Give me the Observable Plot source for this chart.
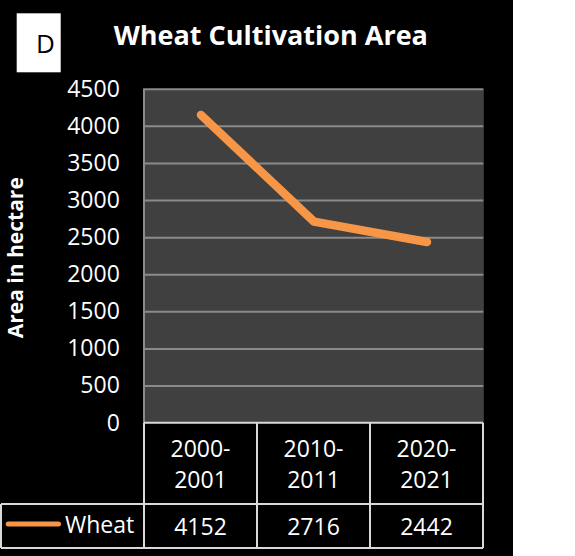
<!DOCTYPE html>
<html><head><meta charset="utf-8">
<script src="https://cdn.jsdelivr.net/npm/d3@7"></script>
<script src="https://cdn.jsdelivr.net/npm/@observablehq/plot@0.6"></script>
<style>
html,body{margin:0;padding:0;background:#fff;}
#chart svg{display:block;}
</style></head><body><div id="chart"></div>
<script>
// ---- data ----
const categories = ["2000-2001", "2010-2011", "2020-2021"];
const categoryLines = [["2000-", "2001"], ["2010-", "2011"], ["2020-", "2021"]];
const wheat = [4152, 2716, 2442];
const seriesName = "Wheat";
const yTicks = [0, 500, 1000, 1500, 2000, 2500, 3000, 3500, 4000, 4500];
const title = "Wheat Cultivation Area";
const yLabel = "Area in hectare";
const panelLetter = "D";

const data = categories.map((c, i) => ({category: c, value: wheat[i]}));

const FONT = "'Open Sans', 'Noto Sans', sans-serif";
const ORANGE = "#F79646";
const BORDER = "#d9d9d9";
const GRID = "#8a8a8a";

const plot = Plot.plot({
  width: 513,
  height: 556,
  marginLeft: 143.3,
  marginRight: 29.7,
  marginTop: 88.7,
  marginBottom: 133.3,
  style: {background: "#000", color: "#fff", fontFamily: FONT, fontSize: "23px", overflow: "visible"},
  x: {type: "band", domain: categories, padding: 0, axis: null},
  y: {domain: [0, 4500], ticks: yTicks, tickSize: 0, tickPadding: 24, label: null, tickFormat: d => String(d)},
  marks: [
    Plot.frame({fill: "#404040", stroke: null}),
    Plot.ruleY(yTicks.filter(t => t > 0), {stroke: GRID, strokeWidth: 2}),
    Plot.line(data, {x: "category", y: "value", stroke: ORANGE, strokeWidth: 8.5, strokeLinecap: "round", strokeLinejoin: "round"})
  ]
});

document.getElementById("chart").appendChild(plot);

const svg = d3.select(plot);
const xs = plot.scale("x");
const ys = plot.scale("y");
const bw = xs.bandwidth;
const x0 = xs.apply(categories[0]);
const xEnd = xs.apply(categories[categories.length - 1]) + bw;
const yZero = ys.apply(0);
const yTop = ys.apply(4500);
const headerBottom = yZero + 81.3;
const tableBottom = yZero + 125.3;

const g = svg.append("g").attr("font-family", FONT).attr("text-anchor", "start");

// left border of plot area
g.append("line").attr("x1", x0).attr("x2", x0).attr("y1", yTop).attr("y2", yZero)
  .attr("stroke", GRID).attr("stroke-width", 2);

// panel letter box
g.append("rect").attr("x", 16.7).attr("y", 13.3).attr("width", 44).attr("height", 59).attr("fill", "#fff");
g.append("text").attr("x", 36).attr("y", 53.3).attr("text-anchor", "start")
  .attr("font-size", 26).attr("fill", "#000").text(panelLetter);

// title
g.append("text").attr("x", 270.8).attr("y", 45).attr("text-anchor", "middle")
  .attr("font-size", 27).attr("font-weight", "bold").attr("fill", "#fff").text(title);

// y label
g.append("text").attr("transform", `translate(23,${(yTop + yZero) / 2 + 2}) rotate(-90)`)
  .attr("text-anchor", "middle").attr("font-size", 21).attr("font-weight", "bold").attr("fill", "#fff").text(yLabel);

// table borders
const tb = g.append("g").attr("stroke", BORDER).attr("stroke-width", 2);
tb.append("line").attr("x1", x0).attr("x2", xEnd).attr("y1", yZero).attr("y2", yZero);
tb.append("line").attr("x1", 1).attr("x2", xEnd).attr("y1", headerBottom).attr("y2", headerBottom);
tb.append("line").attr("x1", 1).attr("x2", xEnd).attr("y1", tableBottom).attr("y2", tableBottom);
tb.append("line").attr("x1", 1).attr("x2", 1).attr("y1", headerBottom).attr("y2", tableBottom);
categories.forEach(c => {
  const xl = xs.apply(c);
  tb.append("line").attr("x1", xl).attr("x2", xl).attr("y1", yZero).attr("y2", tableBottom);
});
tb.append("line").attr("x1", xEnd).attr("x2", xEnd).attr("y1", yZero).attr("y2", tableBottom);

// header labels and values
categories.forEach((c, i) => {
  const cx = xs.apply(c) + bw / 2;
  categoryLines[i].forEach((line, j) => {
    g.append("text").attr("x", cx).attr("y", yZero + 34 + j * 31.6).attr("text-anchor", "middle")
      .attr("font-size", 23).attr("fill", "#fff").text(line);
  });
  g.append("text").attr("x", cx).attr("y", tableBottom - 13.3).attr("text-anchor", "middle")
    .attr("font-size", 23).attr("fill", "#fff").text(String(wheat[i]));
});

// legend key
g.append("line").attr("x1", 8.2).attr("x2", 58.5).attr("y1", headerBottom + 20).attr("y2", headerBottom + 20)
  .attr("stroke", ORANGE).attr("stroke-width", 5).attr("stroke-linecap", "round");
g.append("text").attr("x", 65).attr("y", tableBottom - 15.5).attr("text-anchor", "start")
  .attr("font-size", 23).attr("fill", "#fff").text(seriesName);
</script>
</body></html>
